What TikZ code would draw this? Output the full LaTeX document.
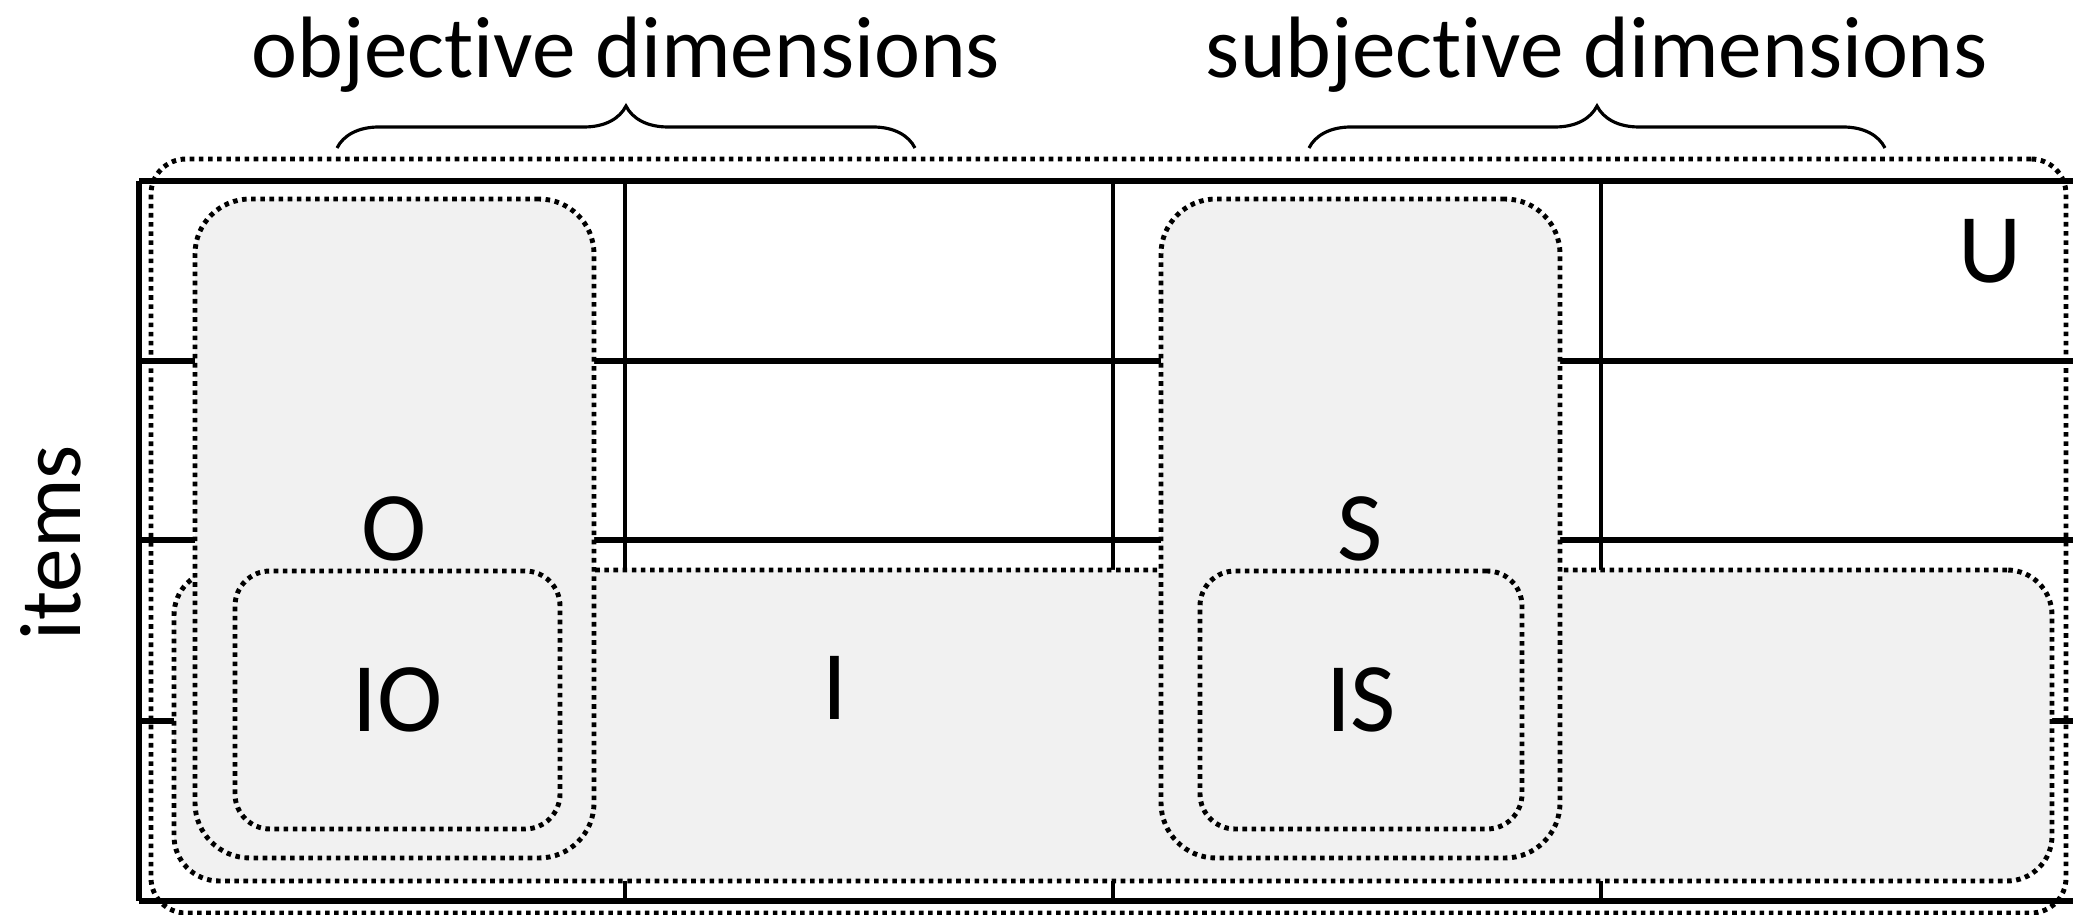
\documentclass[tikz,border=0pt]{standalone}
\usepackage{fontspec}
\setmainfont{Carlito}[Ligatures=NoCommon]
\usetikzlibrary{decorations.pathreplacing}
\definecolor{regiongray}{RGB}{241,241,241}

\begin{document}
\begin{tikzpicture}[x=0.1mm, y=-0.1mm]
    \tikzstyle{rule} = [line width=1.6pt]
    \tikzstyle{colrule} = [line width=1pt]
    \tikzstyle{region} = [rectangle, draw=black, line width=1.4pt, dash pattern=on 1.3pt off 1.3pt, inner sep=0pt, font=\fontsize{28}{34}\selectfont]
    \tikzstyle{shaded} = [region, fill=regiongray]
    \tikzstyle{dimbrace} = [decorate, decoration={brace, amplitude=4.2mm}, line width=0.9pt]
    \tikzstyle{title} = [anchor=base, font=\fontsize{24.8}{30}\selectfont]

    \useasboundingbox (0,0) rectangle (2073,915);

    % table of items x dimensions
    \foreach \y in {181,361,540,721,901}
        \draw[rule] (139,\y) -- (2073,\y);
    \draw[rule] (139,181) -- (139,901);
    \foreach \x in {625,1113,1601}
        \draw[colrule] (\x,181) -- (\x,901);

    % regions
    \node [region, minimum width=191.5mm, minimum height=75.4mm, rounded corners=3.5mm] (U) at (1108.5,536) {};
    \node [shaded, minimum width=187.8mm, minimum height=31.1mm, rounded corners=4.5mm] (I) at (1113,725.5) {};
    \node [shaded, minimum width=39.9mm, minimum height=65.9mm, rounded corners=5.5mm] (O) at (394.5,528.5) {O};
    \node [shaded, minimum width=39.9mm, minimum height=65.9mm, rounded corners=5.5mm] (S) at (1360.5,528.5) {S};
    \node [shaded, minimum width=32.5mm, minimum height=25.8mm, rounded corners=3.5mm] (IO) at (397.5,700) {IO};
    \node [shaded, minimum width=32.2mm, minimum height=25.8mm, rounded corners=3.5mm] (IS) at (1361,700) {IS};

    \node [font=\fontsize{28}{34}\selectfont] (Ilabel) at (835,688) {I};
    \node [font=\fontsize{28}{34}\selectfont] (Ulabel) at (1990,251) {U};

    % dimensions and items
    \coordinate (objL) at (337,148);
    \coordinate (objR) at (915,148);
    \coordinate (subL) at (1309,148);
    \coordinate (subR) at (1885,148);
    \draw[dimbrace] (objL) -- (objR);
    \draw[dimbrace] (subL) -- (subR);
    \node [title] (objective) at (626,78) {objective dimensions};
    \node [title] (subjective) at (1597,78) {subjective dimensions};
    \node [title, rotate=90] (items) at (80,543) {items};
\end{tikzpicture}
\end{document}
